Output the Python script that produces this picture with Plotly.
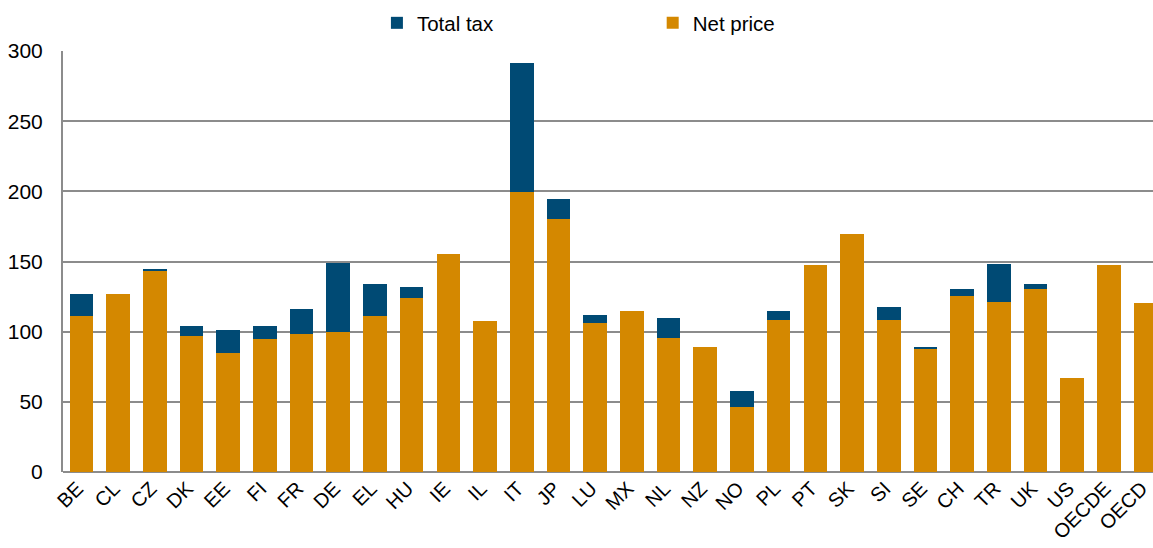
import plotly.graph_objects as go

countries = ["BE", "CL", "CZ", "DK", "EE", "FI", "FR", "DE", "EL", "HU", "IE", "IL", "IT", "JP", "LU",
             "MX", "NL", "NZ", "NO", "PL", "PT", "SK", "SI", "SE", "CH", "TR", "UK", "US", "OECDE", "OECD"]
net_price = [110.9, 126.6, 143.4, 97.1, 84.5, 94.8, 98.6, 100.0, 110.9, 123.7, 155.1, 107.6, 199.6, 180.2, 106.1,
             114.7, 95.2, 89.3, 46.1, 108.5, 147.2, 169.8, 108.1, 88.3, 125.6, 120.9, 130.1, 66.7, 147.2, 120.2]
total_tax = [15.7, 0.0, 1.5, 6.9, 16.4, 9.0, 17.5, 48.6, 22.8, 7.8, 0.0, 0.0, 92.2, 14.0, 5.5,
             0.0, 14.3, 0.0, 11.4, 6.0, 0.0, 0.0, 9.4, 0.8, 4.5, 27.3, 4.1, 0.0, 0.0, 0.0]

BLUE = "#004A74"
ORANGE = "#D48800"
GRID = "#8C8C8C"
FONT = "Arial, Liberation Sans, sans-serif"

fig = go.Figure()
fig.add_trace(go.Bar(x=countries, y=net_price, name="Net price", marker_color=ORANGE,
                     marker_line_width=0, legend="legend2", showlegend=True))
fig.add_trace(go.Bar(x=countries, y=total_tax, name="Total tax", marker_color=BLUE,
                     marker_line_width=0, legend="legend", showlegend=True))

fig.update_layout(
    barmode="stack",
    bargap=0.355,
    width=1153, height=548,
    showlegend=True,
    margin=dict(l=63, r=0, t=51, b=76, autoexpand=False),
    paper_bgcolor="white", plot_bgcolor="white",
    font=dict(family=FONT, size=20, color="black"),
    legend=dict(orientation="h", x=0.288, y=1.0665, xanchor="left", yanchor="middle",
                font=dict(size=20.5), itemwidth=30, bgcolor="rgba(0,0,0,0)"),
    legend2=dict(orientation="h", x=0.541, y=1.0665, xanchor="left", yanchor="middle",
                 font=dict(size=20.5), itemwidth=30, bgcolor="rgba(0,0,0,0)"),
    xaxis=dict(range=[-0.5, 29.2], tickangle=-45, showgrid=False, showline=False,
               ticks="", tickfont=dict(size=20), ticklabelshift=-4, automargin=False,
               fixedrange=True),
    yaxis=dict(range=[0, 300], dtick=50, showgrid=True, gridcolor=GRID, gridwidth=2,
               showline=True, linecolor=GRID, linewidth=2, ticks="",
               zeroline=True, zerolinecolor=GRID, zerolinewidth=2,
               ticklabelstandoff=14, tickfont=dict(size=21), automargin=False),
)

fig.write_html("out.html",
               config={"displayModeBar": False},
               post_script="document.body.style.margin='0';document.body.style.overflow='hidden';")
